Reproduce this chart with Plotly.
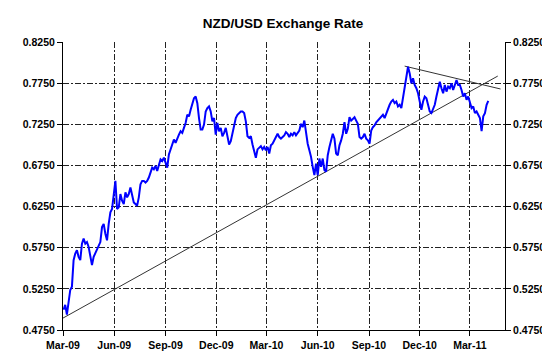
import pandas as pd
import plotly.graph_objects as go

# NZD/USD rate, sampled every 3 days from 2009-03-02
start_date = "2009-03-02"
step = "3D"
rates = [
    0.4996, 0.5056, 0.4936, 0.5076, 0.5237, 0.5277, 0.5599, 0.5679, 0.5719, 0.5639,
    0.5599, 0.5799, 0.5860, 0.5799, 0.5819, 0.5759, 0.5639, 0.5538, 0.5639, 0.5679,
    0.5719, 0.5759, 0.5819, 0.6000, 0.6040, 0.5920, 0.5840, 0.6040, 0.6181, 0.6221,
    0.6402, 0.6562, 0.6221, 0.6241, 0.6402, 0.6321, 0.6281, 0.6422, 0.6362, 0.6402,
    0.6482, 0.6382, 0.6301, 0.6281, 0.6261, 0.6362, 0.6522, 0.6562, 0.6562, 0.6542,
    0.6562,
    0.6603, 0.6663, 0.6724, 0.6704, 0.6744, 0.6684, 0.6744, 0.6824, 0.6804, 0.6844,
    0.6784, 0.6724, 0.6884, 0.6945, 0.7025, 0.7065, 0.7025, 0.7085, 0.7125, 0.7165,
    0.7145, 0.7206, 0.7266, 0.7366, 0.7346, 0.7426, 0.7487, 0.7567, 0.7587, 0.7507,
    0.7326, 0.7186, 0.7186, 0.7246, 0.7406, 0.7447, 0.7467, 0.7406, 0.7286, 0.7326,
    0.7125, 0.7266, 0.7165, 0.7206, 0.7105, 0.7145, 0.7206, 0.7105, 0.7005, 0.7045,
    0.7145, 0.7246, 0.7326, 0.7366, 0.7386, 0.7406, 0.7406, 0.7386, 0.7286, 0.7105,
    0.7085, 0.7105, 0.7005, 0.6904, 0.6844, 0.6945, 0.6965, 0.6985, 0.6945,
    0.6974, 0.6934, 0.6974, 0.6894, 0.6994, 0.7014, 0.7054, 0.7095, 0.7135, 0.7095,
    0.7075, 0.7095, 0.7115, 0.7155, 0.7135, 0.7095, 0.7135, 0.7115, 0.7155, 0.7115,
    0.7155, 0.7175, 0.7255, 0.7215, 0.7295, 0.7115, 0.7014, 0.6934, 0.6854, 0.6733,
    0.6633, 0.6773, 0.6633, 0.6834, 0.6733, 0.6834, 0.6693, 0.6673, 0.6874, 0.6974,
    0.7054, 0.7135, 0.7075, 0.6894, 0.6874, 0.6994, 0.7054, 0.7135, 0.7275, 0.7135,
    0.7195, 0.7336, 0.7295, 0.7315, 0.7336, 0.7295, 0.7255, 0.7095, 0.7075, 0.7095,
    0.7135, 0.7075, 0.7054, 0.7014, 0.7175, 0.7215, 0.7235, 0.7275, 0.7295,
    0.7326, 0.7346, 0.7366, 0.7326, 0.7386, 0.7427, 0.7487, 0.7527, 0.7547, 0.7507,
    0.7527, 0.7467, 0.7487, 0.7447, 0.7567, 0.7667, 0.7808, 0.7949, 0.7868, 0.7748,
    0.7808, 0.7728, 0.7688, 0.7627, 0.7527, 0.7427, 0.7527, 0.7587, 0.7567, 0.7487,
    0.7406, 0.7386, 0.7427, 0.7487, 0.7587, 0.7688, 0.7768, 0.7688, 0.7627, 0.7728,
    0.7647, 0.7708, 0.7688, 0.7748, 0.7667, 0.7728, 0.7788, 0.7728, 0.7728, 0.7667,
    0.7587, 0.7627, 0.7547, 0.7587, 0.7507, 0.7447, 0.7467, 0.7386, 0.7406, 0.7366,
    0.7326, 0.7166, 0.7346, 0.7386, 0.7487, 0.7535,
]
dates = pd.date_range(start_date, periods=len(rates), freq=step)

# trend lines (endpoints)
support_dates = ["2009-03-01", "2011-04-20"]
support_vals = [0.4895, 0.7836]
resist_dates = ["2010-11-04", "2011-04-25"]
resist_vals = [0.7957, 0.7679]

tick_dates = ["2009-03-01", "2009-06-01", "2009-09-01", "2009-12-01", "2010-03-01",
              "2010-06-01", "2010-09-01", "2010-12-01", "2011-03-01"]
tick_labels = ["Mar-09", "Jun-09", "Sep-09", "Dec-09", "Mar-10",
               "Jun-10", "Sep-10", "Dec-10", "Mar-11"]
y_ticks = [0.475, 0.525, 0.575, 0.625, 0.675, 0.725, 0.775, 0.825]

FONT = "Liberation Sans, Arial, sans-serif"
GRID = "#222222"
DASH = "6px,2px,2px,2px"

fig = go.Figure()
fig.add_trace(go.Scatter(x=support_dates, y=support_vals, mode="lines",
                         line=dict(color="#333333", width=1), hoverinfo="skip"))
fig.add_trace(go.Scatter(x=resist_dates, y=resist_vals, mode="lines",
                         line=dict(color="#333333", width=1), hoverinfo="skip"))
fig.add_trace(go.Scatter(x=dates, y=rates, mode="lines",
                         line=dict(color="#0000FF", width=2)))
fig.add_trace(go.Scatter(x=dates[:1], y=rates[:1], yaxis="y2", mode="lines",
                         line=dict(color="rgba(0,0,0,0)"), hoverinfo="skip"))

yaxis_common = dict(
    range=[0.475, 0.825], tickvals=y_ticks, tickformat=".4f",
    tickfont=dict(family=FONT, size=10.5, color="black", weight="bold"),
    ticks="outside", ticklen=5, tickcolor="black",
    showline=True, linecolor="black", linewidth=1,
    zeroline=False,
)

fig.update_layout(
    width=550, height=355,
    margin=dict(l=55, r=53, t=34, b=31),
    paper_bgcolor="white", plot_bgcolor="white",
    showlegend=False,
    title=dict(text="NZD/USD Exchange Rate", x=0.5, xanchor="center",
               y=1 - 15 / 355, yanchor="middle",
               font=dict(family=FONT, size=13.5, color="black", weight="bold")),
    xaxis=dict(
        type="date", range=["2009-03-01", "2011-05-03"],
        tickvals=tick_dates, ticktext=tick_labels,
        tickfont=dict(family=FONT, size=10.5, color="black", weight="bold"),
        ticks="outside", ticklen=5, tickcolor="black",
        showline=True, linecolor="black", linewidth=1,
        showgrid=True, gridcolor=GRID, gridwidth=1, griddash=DASH,
        zeroline=False,
    ),
    yaxis=dict(**yaxis_common, side="left",
               showgrid=True, gridcolor=GRID, gridwidth=1, griddash=DASH),
    yaxis2=dict(**yaxis_common, side="right", overlaying="y", showgrid=False),
)

fig.write_html("out.html")
